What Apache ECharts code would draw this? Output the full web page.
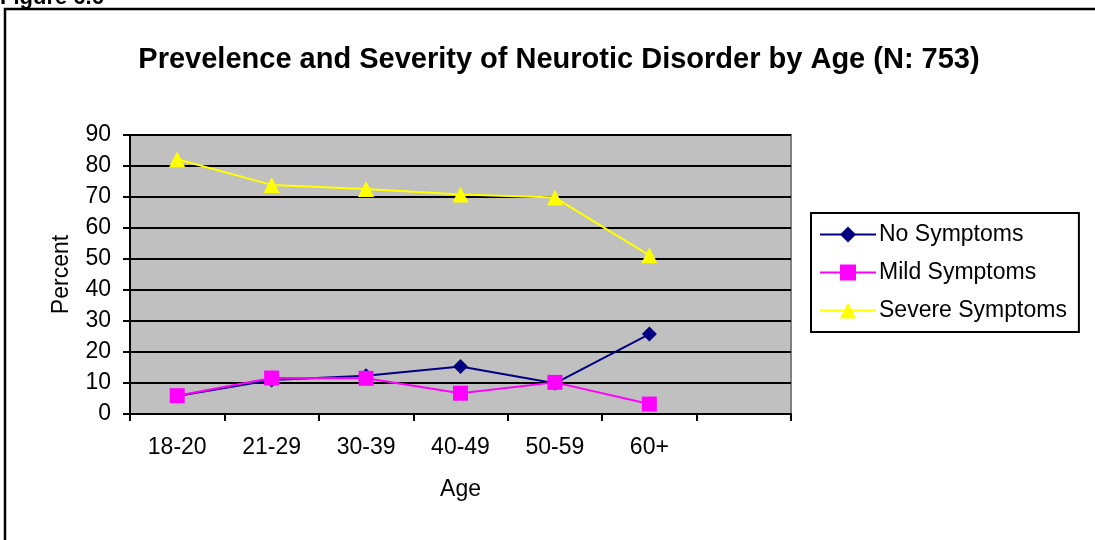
<!DOCTYPE html>
<html>
<head>
<meta charset="utf-8">
<title>Prevelence and Severity of Neurotic Disorder by Age</title>
<script src="https://cdn.jsdelivr.net/npm/echarts@6/dist/echarts.min.js"></script>
<style>
  html, body { margin: 0; padding: 0; background: #fff; }
  #chart { width: 1095px; height: 540px; }
</style>
</head>
<body>
<div id="chart"></div>
<script>
// Age groups (the last slot is an empty category, leaving blank room at the right)
const ageGroups = ['18-20', '21-29', '30-39', '40-49', '50-59', '60+', ''];

// Percent of respondents in each age group
const noSymptoms = [5.8, 11.0, 12.3, 15.3, 9.9, 25.8];
const mildSymptoms = [5.9, 11.6, 11.5, 6.7, 10.2, 3.2];
const severeSymptoms = [82.2, 73.9, 72.6, 70.8, 69.8, 51.2];

const yTicks = { min: 0, max: 90, step: 10 };

const FONT = '"Liberation Sans", Arial, Helvetica, sans-serif';

const chart = echarts.init(document.getElementById('chart'), null, { renderer: 'canvas' });

chart.setOption({
  animation: false,
  backgroundColor: '#ffffff',
  textStyle: { fontFamily: FONT, color: '#000' },
  title: {
    text: 'Prevelence and Severity of Neurotic Disorder by Age (N: 753)',
    left: 554,
    top: 40,
    textAlign: 'center',
    textStyle: { fontFamily: FONT, fontSize: 29, fontWeight: 'bold', color: '#000' }
  },
  graphic: [
    {
      type: 'rect',
      shape: { x: 5, y: 9, width: 1100, height: 545 },
      style: { fill: 'none', stroke: '#000', lineWidth: 2.5 },
      silent: true
    },
    {
      type: 'text',
      x: 0,
      y: 9,
      style: {
        text: 'Figure 6.6',
        fontFamily: FONT,
        fontSize: 22,
        fontWeight: 'bold',
        fill: '#000',
        verticalAlign: 'bottom'
      },
      silent: true
    }
  ],
  legend: {
    orient: 'vertical',
    left: 811,
    top: 213,
    width: 270,
    padding: [10, 12, 10, 8],
    itemGap: 15,
    itemWidth: 56,
    itemHeight: 20,
    borderColor: '#000',
    borderWidth: 2,
    backgroundColor: '#fff',
    textStyle: { fontFamily: FONT, fontSize: 23, color: '#000', padding: [0, 0, 0, -2] },
    data: ['No Symptoms', 'Mild Symptoms', 'Severe Symptoms']
  },
  grid: {
    left: 130,
    right: 304,
    top: 135,
    bottom: 126,
    show: true,
    backgroundColor: '#C0C0C0',
    borderColor: '#808080',
    borderWidth: 2
  },
  xAxis: {
    type: 'category',
    data: ageGroups,
    boundaryGap: true,
    name: 'Age',
    nameLocation: 'middle',
    nameGap: 64,
    nameTextStyle: { fontFamily: FONT, fontSize: 23, color: '#000' },
    axisLine: { show: true, lineStyle: { color: '#000', width: 2 } },
    axisTick: { show: true, length: 7, lineStyle: { color: '#000', width: 2 } },
    axisLabel: { fontFamily: FONT, fontSize: 23, color: '#000', margin: 22 },
    splitLine: { show: false }
  },
  yAxis: {
    type: 'value',
    min: yTicks.min,
    max: yTicks.max,
    interval: yTicks.step,
    name: 'Percent',
    nameLocation: 'middle',
    nameGap: 57,
    nameTextStyle: { fontFamily: FONT, fontSize: 23, color: '#000' },
    axisLine: { show: true, lineStyle: { color: '#000', width: 2 } },
    axisTick: { show: true, length: 7, lineStyle: { color: '#000', width: 2 } },
    axisLabel: { fontFamily: FONT, fontSize: 23, color: '#000', margin: 19 },
    splitLine: { show: true, lineStyle: { color: '#000', width: 2 } }
  },
  series: [
    {
      name: 'No Symptoms',
      type: 'line',
      data: noSymptoms,
      symbol: 'diamond',
      symbolSize: 15,
      showAllSymbol: true,
      color: '#000080',
      lineStyle: { color: '#000080', width: 2 },
      itemStyle: { color: '#000080' }
    },
    {
      name: 'Mild Symptoms',
      type: 'line',
      data: mildSymptoms,
      symbol: 'rect',
      symbolSize: 15,
      showAllSymbol: true,
      color: '#FF00FF',
      lineStyle: { color: '#FF00FF', width: 2 },
      itemStyle: { color: '#FF00FF' }
    },
    {
      name: 'Severe Symptoms',
      type: 'line',
      data: severeSymptoms,
      symbol: 'triangle',
      symbolSize: 16,
      showAllSymbol: true,
      color: '#FFFF00',
      lineStyle: { color: '#FFFF00', width: 2 },
      itemStyle: { color: '#FFFF00' }
    }
  ]
});
</script>
</body>
</html>
